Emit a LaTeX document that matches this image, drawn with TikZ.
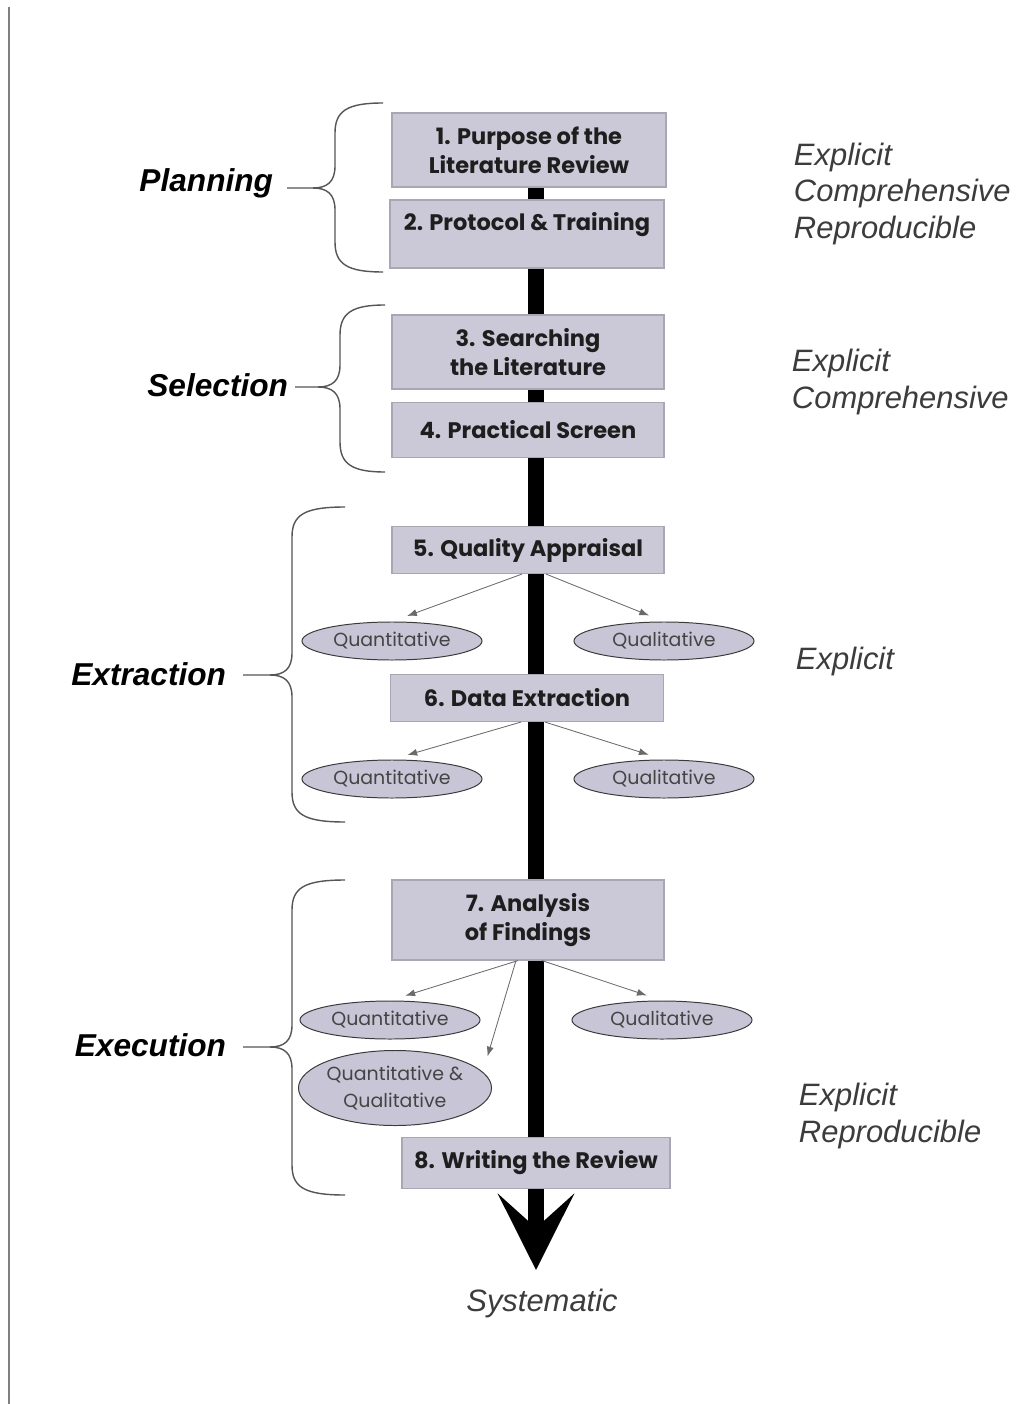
\documentclass[tikz,border=0pt]{standalone}
\usepackage{fontspec}
\setmainfont{Liberation Sans}
\newfontfamily\gothic{Poppins}
\usetikzlibrary{arrows.meta,shapes.geometric}
\pgfdeclarelayer{back}
\pgfsetlayers{back,main}
\definecolor{boxfill}{HTML}{CBC8D7}
\definecolor{boxline}{HTML}{A9A7B3}
\definecolor{ovalfill}{HTML}{C8C5D6}
\definecolor{ovalline}{HTML}{3A3A3A}
\definecolor{ovaltext}{HTML}{444444}
\definecolor{textdark}{HTML}{1E1E1E}
\definecolor{notetext}{HTML}{3C3C3C}
\definecolor{braceline}{HTML}{555555}
\definecolor{pointerline}{HTML}{6A6A6A}

\begin{document}
\begin{tikzpicture}[x=0.025cm, y=-0.025cm,
    stepbox/.style={draw=boxline, fill=boxfill, line width=0.8pt, inner sep=0pt, align=center,
        font=\gothic\bfseries\fontsize{16}{20.5}\selectfont, text=textdark},
    steptext/.style={inner sep=0pt, align=center, font=\gothic\bfseries\fontsize{16}{20.5}\selectfont, text=textdark},
    oval/.style={ellipse, draw=ovalline, fill=ovalfill, line width=0.7pt, inner sep=0pt, align=center,
        minimum width=4.5cm, minimum height=0.95cm, font=\gothic\fontsize{13.5}{19}\selectfont, text=ovaltext},
    phase/.style={anchor=east, font=\bfseries\itshape\fontsize{22.5}{26}\selectfont},
    note/.style={anchor=west, align=left, font=\itshape\fontsize{22}{26.2}\selectfont, text=notetext},
    pointer/.style={draw=pointerline, line width=0.6pt, -{Latex[length=7pt,width=5pt]}, shorten >=0.4cm},
    spine/.style={line width=0.4cm, -{Stealth[length=1.9cm,width=1.9cm,inset=0.85cm]}},
    bracket/.style={draw=braceline, line width=1pt}
    ]
    \useasboundingbox (0,0) rectangle (1018,1404);

    \draw[gray, line width=1.4pt] (9,7) -- (9,1404);

    % steps
    \node[stepbox, minimum width=6.85cm, minimum height=1.85cm] (box1) at (529,150) {1. Purpose of the\\Literature Review};
    \node[stepbox, minimum width=6.85cm, minimum height=1.7cm] (box2) at (527,234) {};
    \node[steptext] (box2text) at (527,225) {2. Protocol \& Training};
    \node[stepbox, minimum width=6.8cm, minimum height=1.85cm] (box3) at (528,352) {3. Searching\\the Literature};
    \node[stepbox, minimum width=6.8cm, minimum height=1.375cm] (box4) at (528,430) {4. Practical Screen};
    \node[stepbox, minimum width=6.8cm, minimum height=1.175cm] (box5) at (528,550) {5. Quality Appraisal};
    \node[stepbox, minimum width=6.825cm, minimum height=1.175cm] (box6) at (527,698) {6. Data Extraction};
    \node[stepbox, minimum width=6.8cm, minimum height=2cm] (box7) at (528,920) {7. Analysis\\of Findings};
    \node[stepbox, minimum width=6.7cm, minimum height=1.275cm] (box8) at (536,1163) {8. Writing the Review};

    \coordinate (tip) at (536,1270);
    \begin{pgfonlayer}{back}
        \draw[spine] (box1.south -| tip) -- (tip);
    \end{pgfonlayer}
    \node[font=\itshape\fontsize{22}{26}\selectfont, text=notetext] (systematic) at (542,1303) {Systematic};

    % outcomes
    \node[oval] (quan1) at (392,641) {Quantitative};
    \node[oval] (qual1) at (664,641) {Qualitative};
    \node[oval] (quan2) at (392,779) {Quantitative};
    \node[oval] (qual2) at (664,779) {Qualitative};
    \node[oval] (quan3) at (390,1020) {Quantitative};
    \node[oval] (qual3) at (662,1020) {Qualitative};
    \node[oval, minimum height=1.875cm] (both3) at (395,1088) {Quantitative \&\\Qualitative};
    \coordinate (bothtip) at (484,1068);

    \draw[pointer] ([xshift=-0.15cm]box5.south) -- (quan1.north);
    \draw[pointer] ([xshift=0.45cm]box5.south) -- (qual1.north);
    \draw[pointer] ([xshift=-0.15cm]box6.south) -- (quan2.north);
    \draw[pointer] ([xshift=0.45cm]box6.south) -- (qual2.north);
    \draw[pointer] ([xshift=-0.25cm]box7.south) -- (quan3.north);
    \draw[pointer] ([xshift=0.35cm]box7.south) -- (qual3.north);
    \draw[pointer, shorten >=0.3cm] ([xshift=-0.3cm]box7.south) -- (bothtip);

    % phases
    \node[phase] (planning) at (278,183) {Planning};
    \node[phase] (selection) at (293,385) {Selection};
    \node[phase] (extraction) at (231,674) {Extraction};
    \node[phase] (execution) at (231,1045) {Execution};

    \foreach \xe/\xs/\xt/\ytop/\ym/\ybot in {383/335/287/103/188/272, 385/340/295/305/387/472,
            345/292/243/507/675/822, 345/292/243/880/1047/1195}{
        \draw[bracket] (\xe,\ytop) .. controls (\xs+12,\ytop) and (\xs,\ytop+8) .. (\xs,\ytop+30)
            -- (\xs,\ym-22) .. controls (\xs,\ym-6) and (\xs-8,\ym) .. (\xs-22,\ym) -- (\xt,\ym);
        \draw[bracket] (\xs-22,\ym) .. controls (\xs-8,\ym) and (\xs,\ym+6) .. (\xs,\ym+22)
            -- (\xs,\ybot-30) .. controls (\xs,\ybot-8) and (\xs+12,\ybot) .. (\xe,\ybot);
    }

    % qualities
    \node[note] (note1) at (789,194) {Explicit\\Comprehensive\\Reproducible};
    \node[note] (note2) at (787,382) {Explicit\\Comprehensive};
    \node[note] (note3) at (791,661) {Explicit};
    \node[note] (note4) at (794,1116) {Explicit\\Reproducible};
\end{tikzpicture}
\end{document}
